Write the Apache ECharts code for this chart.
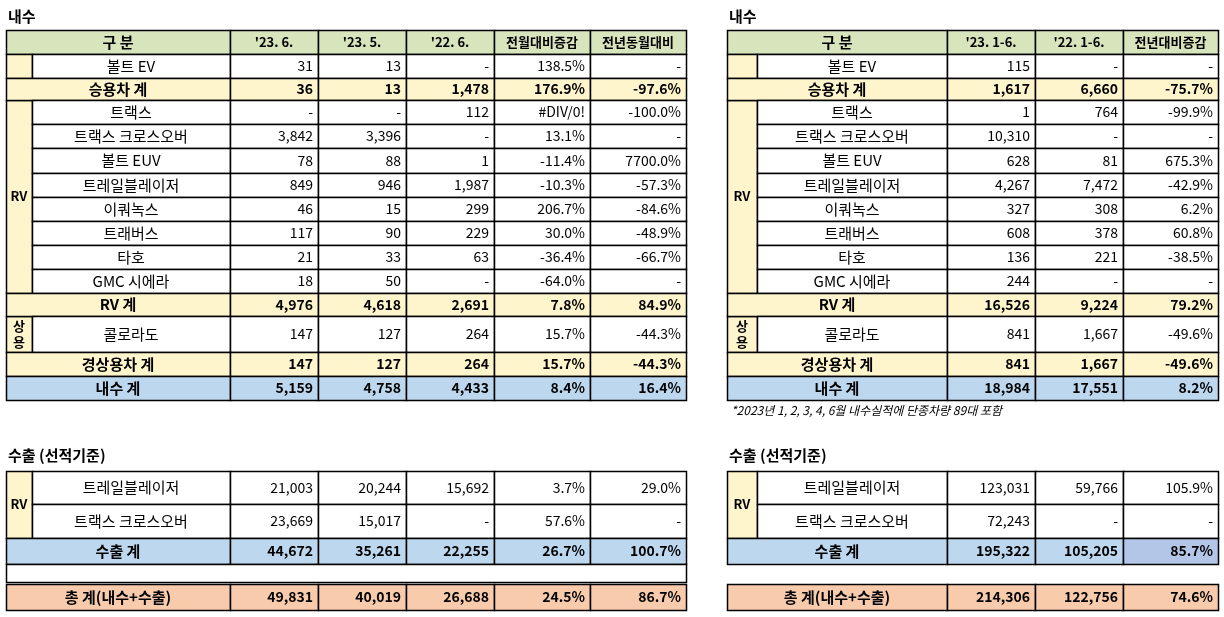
<!DOCTYPE html>
<html><head><meta charset="utf-8">
<script src="https://cdn.jsdelivr.net/npm/echarts@6/dist/echarts.min.js"></script>
<style>html,body{margin:0;background:#fff}#c{width:1224px;height:617px}</style>
</head><body><div id="c"></div>
<script>
// 내수 (domestic)
var domNames = ['볼트 EV','승용차 계','트랙스','트랙스 크로스오버','볼트 EUV','트레일블레이저','이쿼녹스','트래버스','타호','GMC 시에라','RV 계','콜로라도','경상용차 계','내수 계'];
var domKind = ['n','s','n','n','n','n','n','n','n','n','s','n','s','t'];
var jun23 = ['31','36','-','3,842','78','849','46','117','21','18','4,976','147','147','5,159'];
var may23 = ['13','13','-','3,396','88','946','15','90','33','50','4,618','127','127','4,758'];
var jun22 = ['-','1,478','112','-','1','1,987','299','229','63','-','2,691','264','264','4,433'];
var momPct = ['138.5%','176.9%','#DIV/0!','13.1%','-11.4%','-10.3%','206.7%','30.0%','-36.4%','-64.0%','7.8%','15.7%','15.7%','8.4%'];
var yoyPct = ['-','-97.6%','-100.0%','-','7700.0%','-57.3%','-84.6%','-48.9%','-66.7%','-','84.9%','-44.3%','-44.3%','16.4%'];
var ytd23 = ['115','1,617','1','10,310','628','4,267','327','608','136','244','16,526','841','841','18,984'];
var ytd22 = ['-','6,660','764','-','81','7,472','308','378','221','-','9,224','1,667','1,667','17,551'];
var ytdPct = ['-','-75.7%','-99.9%','-','675.3%','-42.9%','6.2%','60.8%','-38.5%','-','79.2%','-49.6%','-49.6%','8.2%'];
var domGroups = [['',0,1],['RV',2,10],['상\n용',11,12]];
var headL = ['구 분',"'23. 6.","'23. 5.","'22. 6.",'전월대비증감','전년동월대비'];
var headR = ['구 분',"'23. 1-6.","'22. 1-6.",'전년대비증감'];

// 수출 (export)
var expNames = ['트레일블레이저','트랙스 크로스오버','수출 계'];
var expJun23 = ['21,003','23,669','44,672'];
var expMay23 = ['20,244','15,017','35,261'];
var expJun22 = ['15,692','-','22,255'];
var expMom = ['3.7%','57.6%','26.7%'];
var expYoy = ['29.0%','-','100.7%'];
var expYtd23 = ['123,031','72,243','195,322'];
var expYtd22 = ['59,766','-','105,205'];
var expYtdPct = ['105.9%','-','85.7%'];
var totalName = '총 계(내수+수출)';
var totalL = ['49,831','40,019','26,688','24.5%','86.7%'];
var totalR = ['214,306','122,756','74.6%'];

// layout
var colL = [6,32,230,318,406,494,590,686];
var colR = [727,757,947,1035,1123,1218];
var domY = [54,78,100,124,148,173,197,221,245,269,293,316,352,376,400];
var FILL = {n:'#ffffff', s:'#fff5cc', t:'#bdd7ee', h:'#d8e4bc', g:'#f8cbad', p:'#b4c6e7'};
var KR = '"Noto Sans CJK KR", sans-serif';

var cells = [];
function cell(x0,x1,y0,y1,text,o){o=o||{};cells.push({v:[x0,x1,y0,y1],text:text,fill:o.fill||null,bold:!!o.bold,align:o.align||'center',size:o.size||14,border:o.border!==false,italic:!!o.italic});}

function table(col, vals, head, title) {
  cell(col[0],col[0]+200,6,26,title,{border:false,align:'left',bold:true,size:15});
  cell(col[0],col[2],30,54,head[0],{fill:FILL.h,bold:true,size:15});
  for (var j=1;j<head.length;j++) cell(col[j+1],col[j+2],30,54,head[j],{fill:FILL.h,bold:true,size:13});
  domGroups.forEach(function(g){cell(col[0],col[1],domY[g[1]],domY[g[2]],g[0],{fill:FILL.s,bold:true,size:13});});
  domNames.forEach(function(nm,i){
    var k=domKind[i], f=FILL[k], b=k!=='n';
    cell(k==='n'?col[1]:col[0],col[2],domY[i],domY[i+1],nm,{fill:f,bold:b,size:15});
    vals.forEach(function(arr,j){cell(col[j+2],col[j+3],domY[i],domY[i+1],arr[i],{fill:f,bold:b,align:'right'});});
  });
}
table(colL,[jun23,may23,jun22,momPct,yoyPct],headL,'내수');
table(colR,[ytd23,ytd22,ytdPct],headR,'내수');
cell(729,1100,401,419,'*2023년 1, 2, 3, 4, 6월 내수실적에 단종차량 89대 포함',{border:false,align:'left',italic:true,size:12});

var expY = [471,504,538,564];
function exportTable(col, vals, tot, title, blank) {
  cell(col[0],col[0]+200,445,465,title,{border:false,align:'left',bold:true,size:15});
  cell(col[0],col[1],expY[0],expY[2],'RV',{fill:FILL.s,bold:true,size:13});
  expNames.forEach(function(nm,i){
    var t=i===2, f=t?FILL.t:FILL.n;
    cell(t?col[0]:col[1],col[2],expY[i],expY[i+1],nm,{fill:f,bold:t,size:15});
    vals.forEach(function(arr,j){
      var ff=(t&&col===colR&&j===vals.length-1)?FILL.p:f;
      cell(col[j+2],col[j+3],expY[i],expY[i+1],arr[i],{fill:ff,bold:t,align:'right'});
    });
  });
  if (blank) cell(col[0],col[col.length-1],564,582,'',{fill:FILL.n});
  cell(col[0],col[2],584,610,totalName,{fill:FILL.g,bold:true,size:15});
  tot.forEach(function(v,j){cell(col[j+2],col[j+3],584,610,v,{fill:FILL.g,bold:true,align:'right'});});
}
exportTable(colL,[expJun23,expMay23,expJun22,expMom,expYoy],totalL,'수출 (선적기준)',true);
exportTable(colR,[expYtd23,expYtd22,expYtdPct],totalR,'수출 (선적기준)',false);

var chart = echarts.init(document.getElementById('c'));
chart.setOption({
  animation:false,
  grid:{left:0,right:0,top:0,bottom:0},
  xAxis:{type:'value',min:0,max:1224,show:false},
  yAxis:{type:'value',min:0,max:617,inverse:true,show:false},
  series:[{
    type:'custom',
    data:cells.map(function(c){return c.v;}),
    renderItem:function(params,api){
      var c=cells[params.dataIndex];
      var p0=api.coord([api.value(0),api.value(2)]), p1=api.coord([api.value(1),api.value(3)]);
      var w=p1[0]-p0[0], h=p1[1]-p0[1];
      var tx=c.align==='right'?p1[0]-5:(c.align==='left'?p0[0]+2:p0[0]+w/2);
      return {type:'group',children:[
        {type:'rect',shape:{x:p0[0]+0.5,y:p0[1]+0.5,width:w,height:h},
         style:{fill:c.fill||'transparent',stroke:c.border?'#000':null,lineWidth:1.5}},
        {type:'text',style:{x:tx,y:p0[1]+h/2,text:c.text,textAlign:c.align,textVerticalAlign:'middle',
         fontFamily:KR,fontSize:c.size,fontWeight:c.bold?'bold':'normal',fontStyle:c.italic?'italic':'normal',
         fill:'#000',lineHeight:c.size+3}}
      ]};
    }
  }]
});
</script></body></html>
